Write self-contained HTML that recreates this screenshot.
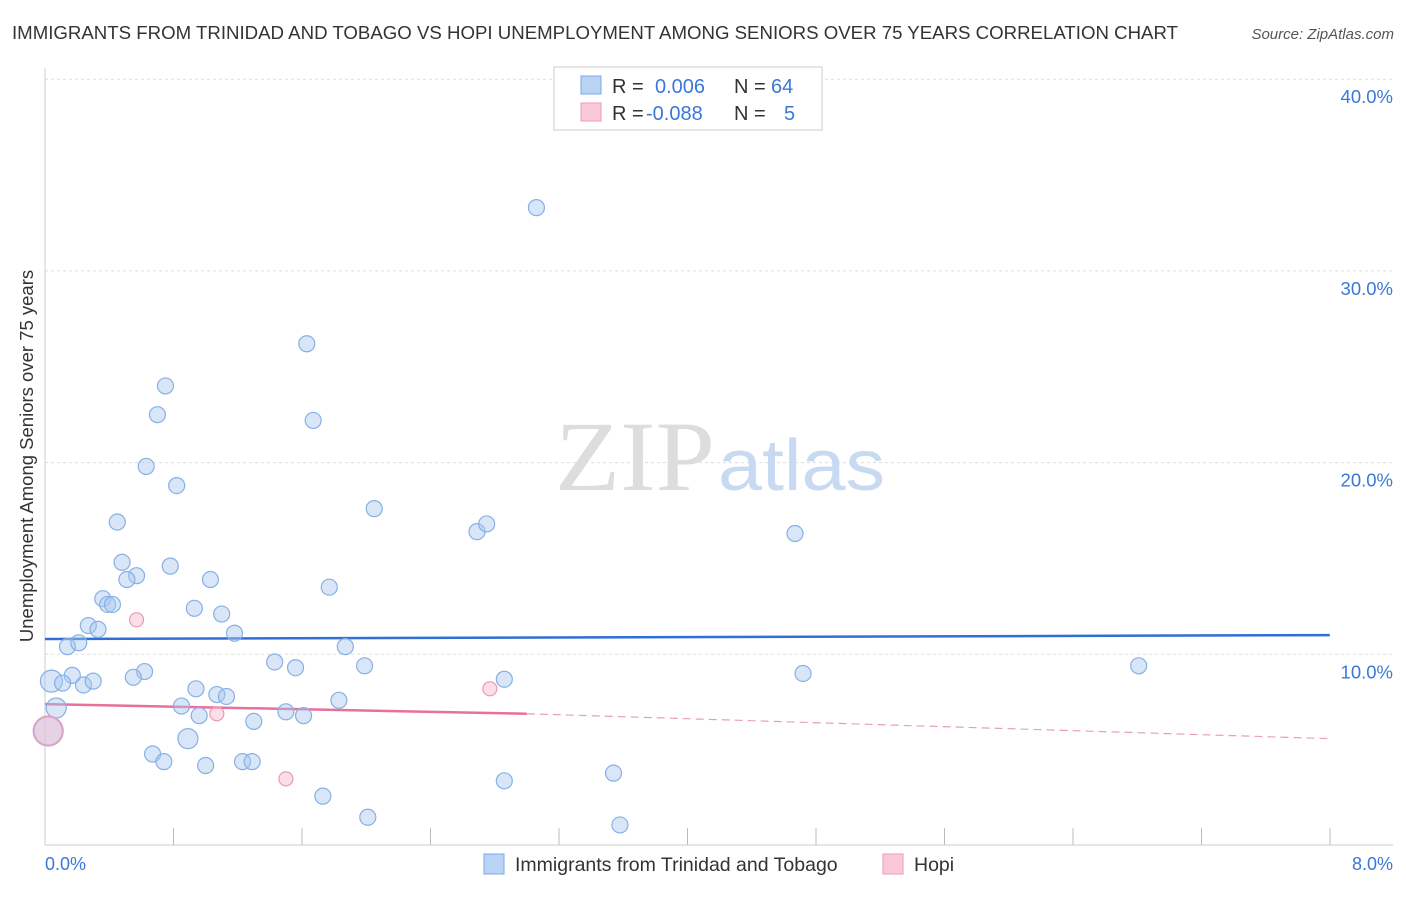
<!DOCTYPE html>
<html><head><meta charset="utf-8"><style>
body{margin:0;background:#fff;font-family:"Liberation Sans",sans-serif;}
</style></head><body>
<svg width="1406" height="892" xmlns="http://www.w3.org/2000/svg">
<text x="12" y="39" font-size="18" fill="#333" textLength="1166" lengthAdjust="spacingAndGlyphs">IMMIGRANTS FROM TRINIDAD AND TOBAGO VS HOPI UNEMPLOYMENT AMONG SENIORS OVER 75 YEARS CORRELATION CHART</text>
<text x="1394" y="39" font-size="15" fill="#555" font-style="italic" text-anchor="end">Source: ZipAtlas.com</text>
<g id="grid"></g>
<line x1="45" y1="68" x2="45" y2="845" stroke="#ccc"/>
<line x1="45" y1="845" x2="1393" y2="845" stroke="#ccc"/>
<text x="555" y="490" font-size="100" fill="#ddd" font-family="Liberation Serif,serif" textLength="160" lengthAdjust="spacingAndGlyphs">ZIP</text>
<text x="718" y="490" font-size="72" fill="#c8daf2" textLength="167" lengthAdjust="spacingAndGlyphs">atlas</text>
<text transform="translate(33,456) rotate(-90)" font-size="18.5" fill="#333" text-anchor="middle">Unemployment Among Seniors over 75 years</text>
<text x="45" y="870" font-size="18" fill="#3a78d8">0.0%</text>
<text x="1393" y="870" font-size="18" fill="#3a78d8" text-anchor="end">8.0%</text>
<g id="ticks"></g>
<g id="trends"></g>
<g id="points"></g>
<g>
<rect x="554" y="67" width="268" height="63" fill="#fff" stroke="#ccc"/>
<rect x="581" y="76" width="20" height="18" fill="#b9d3f5" stroke="#7aa8e6"/>
<rect x="581" y="103" width="20" height="18" fill="#f9c9d8" stroke="#ee9ab5"/>
<text x="612" y="93" font-size="20" fill="#333">R =<tspan x="655" fill="#3a78d8">0.006</tspan><tspan x="734">N =</tspan><tspan x="771" fill="#3a78d8">64</tspan></text>
<text x="612" y="120" font-size="20" fill="#333">R =<tspan x="646" fill="#3a78d8">-0.088</tspan><tspan x="734">N =</tspan><tspan fill="#3a78d8" x="784">5</tspan></text>
</g>
<g>
<rect x="484" y="854" width="20" height="20" fill="#b9d3f5" stroke="#7aa8e6"/>
<text x="515" y="871" font-size="19.5" fill="#333">Immigrants from Trinidad and Tobago</text>
<rect x="883" y="854" width="20" height="20" fill="#f9c9d8" stroke="#ee9ab5"/>
<text x="914" y="871" font-size="19.5" fill="#333">Hopi</text>
</g>
</svg>
<script>
const yTicks=[10,20,30,40];
const xTickCount=10;
const blueX=[3.06,1.63,0.75,0.70,1.67,0.63,0.82,2.05,2.69,2.75,4.67,0.45,0.48,0.78,0.57,0.51,1.03,1.77,0.36,0.39,0.42,0.93,1.10,0.27,0.33,1.18,0.14,0.21,1.87,1.43,1.56,1.99,6.81,0.62,0.55,4.72,0.17,0.04,0.11,0.24,0.30,2.86,0.94,1.07,1.13,1.83,0.85,0.96,1.50,1.61,1.30,0.07,0.89,0.67,0.74,1.00,1.23,1.29,3.54,2.86,1.73,2.01,3.58,0.02];
const blueY=[33.3,26.2,24.0,22.5,22.2,19.8,18.8,17.6,16.4,16.8,16.3,16.9,14.8,14.6,14.1,13.9,13.9,13.5,12.9,12.6,12.6,12.4,12.1,11.5,11.3,11.1,10.4,10.6,10.4,9.6,9.3,9.4,9.4,9.1,8.8,9.0,8.9,8.6,8.5,8.4,8.6,8.7,8.2,7.9,7.8,7.6,7.3,6.8,7.0,6.8,6.5,7.2,5.6,4.8,4.4,4.2,4.4,4.4,3.8,3.4,2.6,1.5,1.1,6.0];
const blueR=[8,8,8,8,8,8,8,8,8,8,8,8,8,8,8,8,8,8,8,8,8,8,8,8,8,8,8,8,8,8,8,8,8,8,8,8,8,11,8,8,8,8,8,8,8,8,8,8,8,8,8,10,10,8,8,8,8,8,8,8,8,8,8,14];
const pinkX=[0.57,2.77,1.07,1.50,0.02];
const pinkY=[11.8,8.2,6.9,3.5,6.0];
const pinkR=[7,7,7,7,15];
const blueTrend=[10.8,11.0];
const pinkTrend=[7.4,6.9,5.6];
const pinkSolidEnd=3.0;
const X0=45,XW=160.6,Y0=846,YH=19.17;
const sx=v=>X0+v*XW, sy=v=>Y0-v*YH;
const NS="http://www.w3.org/2000/svg";
function mk(t,a,p){const e=document.createElementNS(NS,t);for(const k in a)e.setAttribute(k,a[k]);document.getElementById(p).appendChild(e);return e;}
yTicks.forEach(t=>{
 const l=mk('line',{x1:45,x2:1393,y1:sy(t),y2:sy(t),stroke:'#ddd','stroke-dasharray':'3,3'},'grid');
 
 
 const tx=mk('text',{x:1393,y:sy(t)+24,'font-size':18.5,fill:'#3a78d8','text-anchor':'end'},'grid');
 tx.textContent=t.toFixed(1)+'%';
 
 
});
for(let i=1;i<=xTickCount;i++){
 const x=X0+i*(1330-X0)/xTickCount;
 const l=mk('line',{x1:x,x2:x,y1:828,y2:845,stroke:'#bbb'},'ticks');
 
 
}
let bt=mk('line',{x1:sx(0),x2:sx(8),y1:sy(blueTrend[0]),y2:sy(blueTrend[1]),stroke:'#2f6fd6','stroke-width':2.5},'trends');


let pt=mk('line',{x1:sx(0),x2:sx(pinkSolidEnd),y1:sy(pinkTrend[0]),y2:sy(pinkTrend[1]),stroke:'#e8709a','stroke-width':2.5},'trends');


let pd=mk('line',{x1:sx(pinkSolidEnd),x2:sx(8),y1:sy(pinkTrend[1]),y2:sy(pinkTrend[2]),stroke:'#e8a0b8','stroke-width':1.2,'stroke-dasharray':'8,5'},'trends');


blueX.forEach((v,i)=>{
 const c=mk('circle',{cx:sx(v),cy:sy(blueY[i]),r:blueR[i],fill:'rgba(168,200,240,0.45)',stroke:'#86b0e6','stroke-width':1.2},'points');
 
 
});
pinkX.forEach((v,i)=>{
 const c=mk('circle',{cx:sx(v),cy:sy(pinkY[i]),r:pinkR[i],fill:'rgba(246,190,210,0.5)',stroke:'#eb98b4','stroke-width':1.2},'points');
 
 
});
</script>
</body></html>
